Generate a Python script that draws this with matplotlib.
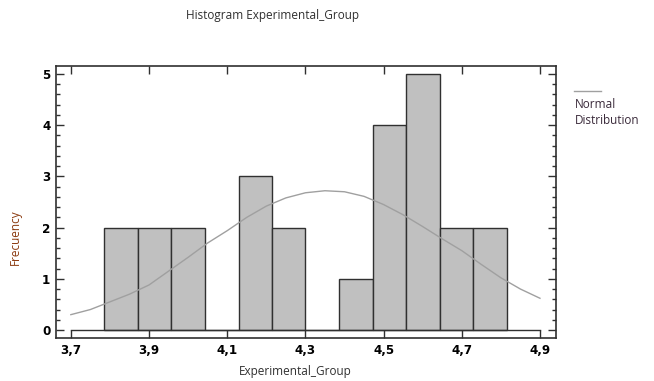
import numpy as np
import matplotlib.pyplot as plt
from matplotlib.ticker import MultipleLocator
from matplotlib import font_manager

# -----------------------------
# Data
# -----------------------------
bin_edges = [3.786, 3.872, 3.957, 4.043, 4.129, 4.215, 4.300,
             4.386, 4.472, 4.558, 4.643, 4.729, 4.815]
counts = [2, 2, 2, 0, 3, 2, 0, 1, 4, 5, 2, 2]

# fitted normal curve (scaled to frequency)
curve_x = [3.70, 3.75, 3.80, 3.85, 3.90, 3.95, 4.00, 4.05, 4.10, 4.15, 4.20,
           4.25, 4.30, 4.35, 4.40, 4.45, 4.50, 4.55, 4.60, 4.65, 4.70, 4.75,
           4.80, 4.85, 4.90]
curve_y = [0.30, 0.40, 0.55, 0.70, 0.88, 1.15, 1.42, 1.70, 1.94, 2.20, 2.42,
           2.58, 2.68, 2.72, 2.70, 2.61, 2.45, 2.25, 2.02, 1.78, 1.55, 1.28,
           1.02, 0.80, 0.62]

x_ticks = [3.7, 3.9, 4.1, 4.3, 4.5, 4.7, 4.9]
x_labels = ['3,7', '3,9', '4,1', '4,3', '4,5', '4,7', '4,9']
y_ticks = [0, 1, 2, 3, 4, 5]

# condensed bold font for tick labels, if one is around
names = {f.name for f in font_manager.fontManager.ttflist}
if 'Liberation Sans Narrow' in names:
    tick_font = dict(family='Liberation Sans Narrow', weight='bold', size=10)
else:
    tick_font = dict(family='DejaVu Sans', weight='bold', stretch='condensed', size=9.5)

# -----------------------------
# Plot
# -----------------------------
fig = plt.figure(figsize=(6.54, 3.81), dpi=100)
ax = fig.add_axes([56/654, 1 - 338/381, 500/654, 272/381])

widths = np.diff(bin_edges)
ax.bar(bin_edges[:-1], counts, width=widths, align='edge',
       color='#c0c0c0', edgecolor='#303030', linewidth=1.0, zorder=2)
ax.plot([3.7, 4.9], [0, 0], color='#303030', linewidth=1.0, zorder=3)
ax.plot(curve_x, curve_y, color='#a0a0a0', linewidth=1.0, zorder=4)

ax.set_xlim(3.662, 4.941)
ax.set_ylim(-0.156, 5.156)
ax.set_xticks(x_ticks)
ax.set_xticklabels(x_labels)
ax.set_yticks(y_ticks)
ax.yaxis.set_minor_locator(MultipleLocator(0.2))

for lab in ax.get_xticklabels() + ax.get_yticklabels():
    lab.set_fontproperties(font_manager.FontProperties(**tick_font))

ax.tick_params(axis='both', which='major', direction='in', length=6,
               width=1, top=True, right=True, color='#303030', pad=4)
ax.tick_params(axis='y', which='minor', direction='in', length=3,
               width=1, right=True, color='#303030')
for s in ax.spines.values():
    s.set_color('#303030')
    s.set_linewidth(1.2)

# axis titles placed like the original
fig.text(295/654, 1 - 371/381, 'Experimental_Group', family='Open Sans',
         fontsize=8.5, color='#303030', ha='center', va='center')
fig.text(15/654, 1 - 237/381, 'Frecuency', family='Open Sans', fontsize=8.5,
         color='#8b3a0f', rotation=90, ha='center', va='center')
fig.text(272/654, 1 - 16/381, 'Histogram Experimental_Group',
         family='Open Sans', fontsize=8.5, color='#303030',
         ha='center', va='center')

# legend drawn by hand, like the original
fig.add_artist(plt.Line2D([574/654, 601/654], [1 - 91/381, 1 - 91/381],
                          color='#a0a0a0', linewidth=1.0))
fig.text(575/654, 1 - 105/381, 'Normal', family='Open Sans', fontsize=8.5,
         color='#3a2a3a', va='center')
fig.text(575/654, 1 - 121/381, 'Distribution', family='Open Sans',
         fontsize=8.5, color='#3a2a3a', va='center')

plt.savefig('out.png', dpi=100)
